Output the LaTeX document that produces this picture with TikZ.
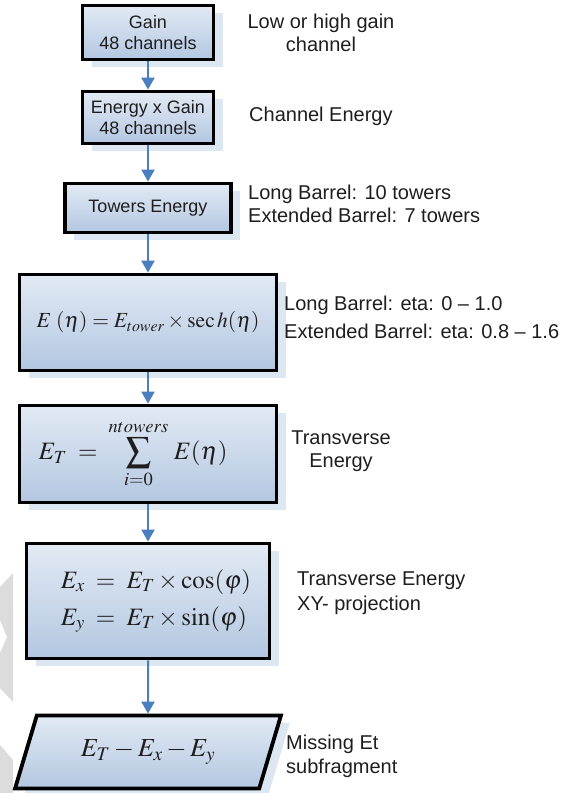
\documentclass[tikz,border=0pt]{standalone}
\usepackage{amsmath}
\usepackage{mathptmx}
\usepackage[no-math]{fontspec}
\setmainfont{Liberation Sans}
\usetikzlibrary{shapes.geometric,shadows,arrows.meta}
\definecolor{boxtop}{HTML}{E2EAF4}
\definecolor{boxbot}{HTML}{B3C7E1}
\definecolor{shadowc}{HTML}{DDE7F2}
\definecolor{arrowc}{HTML}{4A7EBF}
\definecolor{textc}{HTML}{1E1E1E}
\definecolor{wmark}{HTML}{DCDCDC}
\begin{document}
\begin{tikzpicture}[x=1pt,y=-1pt,
  box/.style={draw=black, line width=3.8pt, top color=boxtop, bottom color=boxbot,
    drop shadow={shadow xshift=9pt, shadow yshift=-7pt, fill=shadowc, opacity=1},
    inner sep=0pt, align=center, text=textc, font=\fontsize{18}{21}\selectfont},
  flow/.style={draw=arrowc, line width=2pt, -{Triangle[length=12pt,width=13pt]}},
  side/.style={inner sep=0pt, text=textc, font=\fontsize{20}{23}\selectfont}
]
\useasboundingbox (0,0) rectangle (573,793);
% watermark fragments
\fill[wmark] (0,587) -- (13,573) -- (13,702) -- (0,688) -- (0,653) -- (7,637) -- (0,620) -- cycle;
\fill[wmark] (0,745) -- (13,760) -- (13,793) -- (0,793) -- cycle;

\node[box, minimum width=131pt, minimum height=54pt] (b1) at (148,32.5) {Gain\\48 channels};
\node[box, minimum width=131pt, minimum height=52pt] (b2) at (148,117.5) {Energy x Gain\\48 channels};
\node[box, minimum width=166pt, minimum height=49pt] (b3) at (148,208) {Towers Energy};
\node[box, minimum width=257pt, minimum height=96pt] (b4) at (148,322.5)
  {\fontsize{21.5}{24}\selectfont $E\;(\eta) = E_{tower}\times \sec h(\eta)$};
\node[box, minimum width=257pt, minimum height=97pt] (b5) at (148,454)
  {\fontsize{25}{28}\selectfont $\displaystyle E_T \;=\; \sum_{i=0}^{ntowers}\, E(\eta)$\hspace*{30pt}};
\node[box, minimum width=243pt, minimum height=115pt] (b6) at (148,601)
  {\fontsize{25}{28}\selectfont \hspace*{16pt}$\begin{aligned} E_{x} \;&=\; E_{T}\times\cos(\varphi)\\[6pt] E_{y} \;&=\; E_{T}\times\sin(\varphi)\end{aligned}$};
\node[box, trapezium, trapezium left angle=62, trapezium right angle=118, trapezium stretches=true,
  minimum width=266pt, minimum height=73pt] (b7) at (148,752)
  {\fontsize{26}{28}\selectfont $E_{T} - E_{x} - E_{y}$};

\draw[flow] (b1) -- (b2);
\draw[flow] (b2) -- (b3);
\draw[flow] (b3) -- (b4);
\draw[flow] (b4) -- (b5);
\draw[flow] (b5) -- (b6);
\draw[flow] (b6) -- (b7.north);

\node[side, align=center] (l1) at (321,33) {Low or high gain\\channel};
\node[side, anchor=west] (l2) at (249,116) {Channel Energy};
\node[side, anchor=west, align=left] (l3) at (248,204) {Long Barrel: 10 towers\\Extended Barrel: 7 towers};
\node[side, anchor=west, align=left, font=\fontsize{20}{28}\selectfont] (l4) at (284,317) {Long Barrel: eta: 0 -- 1.0\\Extended Barrel: eta: 0.8 -- 1.6};
\node[side, align=center] (l5) at (341,451) {Transverse\\Energy};
\node[side, anchor=west, align=left, font=\fontsize{20}{25}\selectfont] (l6) at (297,593) {Transverse Energy\\XY- projection};
\node[side, anchor=west, align=left, font=\fontsize{20}{24}\selectfont] (l7) at (286,756) {Missing Et\\subfragment};
\end{tikzpicture}
\end{document}
